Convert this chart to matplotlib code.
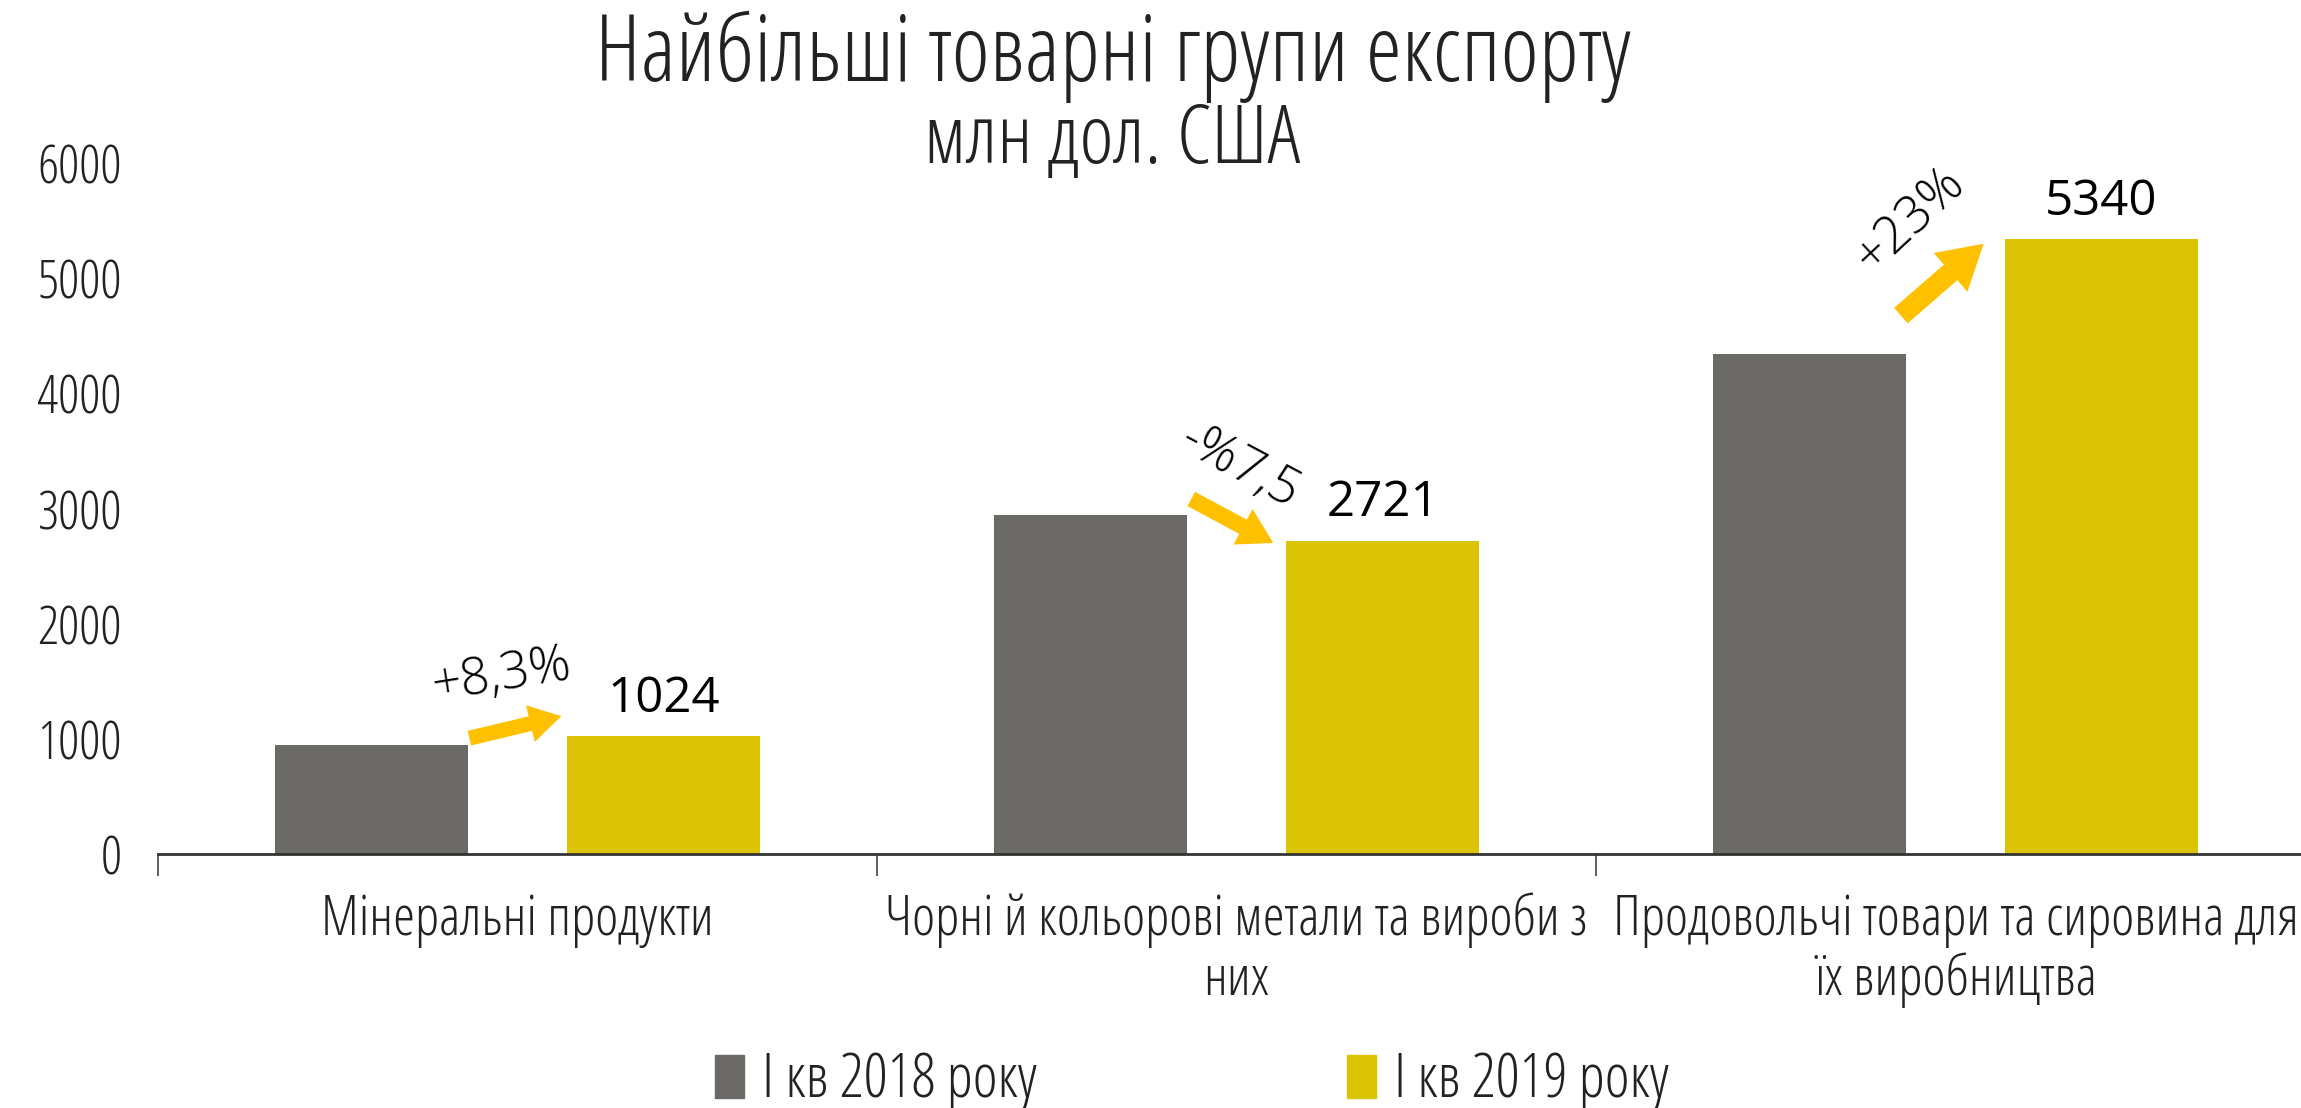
import numpy as np
import matplotlib
matplotlib.use('Agg')
import matplotlib.pyplot as plt
from matplotlib.patches import Patch

# data
categories = ['Мінеральні продукти',
              'Чорні й кольорові метали та вироби з\nних',
              'Продовольчі товари та сировина для\nїх виробництва']
series_names = ['І кв 2018 року', 'І кв 2019 року']
q1_2018 = [945, 2942, 4341]
q1_2019 = [1024, 2721, 5340]
change_labels = ['+8,3%', '-%7,5', '+23%']

GREY = '#6b6a67'
YELLOW = '#dbc305'
ARROW = '#ffc000'
TXT = '#222222'

plt.rcParams['font.family'] = ['Open Sans', 'DejaVu Sans']
plt.rcParams['font.weight'] = 'light'
plt.rcParams['font.stretch'] = 'condensed'
num_font = dict(family=['Open Sans', 'DejaVu Sans'], weight='normal', stretch='normal')

fig = plt.figure(figsize=(23.01, 11.08), dpi=100)
ax = fig.add_axes([0.0687, 0.2292, 0.9374, 0.6237])

x = np.arange(len(categories))
off, w = 0.203, 0.269
ax.bar(x - off, q1_2018, w, color=GREY, label=series_names[0])
ax.bar(x + off, q1_2019, w, color=YELLOW, label=series_names[1])

# value labels over 2019 bars
for xi, v in zip(x, q1_2019):
    ax.annotate(f'{v}', (xi + off, v), xytext=(0, 9), textcoords='offset points',
                ha='center', va='bottom', fontsize=35.5, color='black', **num_font)

# change arrows (start, end) in data coords, relative to category
arrows = [((-0.067, 1006), (0.061, 1197)),
          ((-0.063, 3083), (0.051, 2701)),
          ((-0.076, 4675), (0.039, 5299))]
arrow_scale = [27, 29, 37]
label_pos = [(-0.022, 1554, 9), (0.004, 3363, -28), (-0.063, 5503, 43)]
for xi, (s, e), ms, (lx, ly, rot), txt in zip(x, arrows, arrow_scale, label_pos, change_labels):
    ax.annotate('', xy=(xi + e[0], e[1]), xytext=(xi + s[0], s[1]),
                arrowprops=dict(arrowstyle='simple,head_length=0.85,head_width=1.0,tail_width=0.4',
                                color=ARROW, lw=0, mutation_scale=ms, shrinkA=0, shrinkB=0))
    ax.text(xi + lx, ly, txt, rotation=rot, rotation_mode='anchor', ha='center', va='center',
            fontsize=37, color='black', family=['Open Sans', 'DejaVu Sans'], weight='light',
            stretch='normal')

ax.set_xlim(-0.5, 2.5)
ax.set_ylim(0, 6000)
ax.set_yticks(range(0, 6001, 1000))
ax.tick_params(axis='y', length=0, pad=26, labelsize=38, labelcolor=TXT)
ax.set_xticks(x)
ax.set_xticklabels(categories, fontsize=40, color=TXT, linespacing=1.1)
ax.set_xticks([-0.5, 0.5, 1.5, 2.5], minor=True)
ax.tick_params(axis='x', which='major', length=0, pad=28)
ax.tick_params(axis='x', which='minor', length=16, width=1.2, color='#444444', direction='out')
for sp in ['top', 'right', 'left']:
    ax.spines[sp].set_visible(False)
ax.spines['bottom'].set_color('#333333')
ax.spines['bottom'].set_linewidth(2)

fig.text(0.4835, 0.949, 'Найбільші товарні групи експорту', ha='center', va='center',
         fontsize=66, color=TXT)
fig.text(0.4835, 0.872, 'млн дол. США', ha='center', va='center', fontsize=59, color=TXT)

handles = [Patch(color=GREY), Patch(color=YELLOW)]
fig.legend(handles, series_names, loc='center', bbox_to_anchor=(0.518, 0.024), ncol=2,
           frameon=False, fontsize=43, handlelength=0.48, handleheight=0.73,
           handletextpad=0.3, columnspacing=5.2, labelcolor=TXT)

fig.savefig('out.png', dpi=100, facecolor='white')
